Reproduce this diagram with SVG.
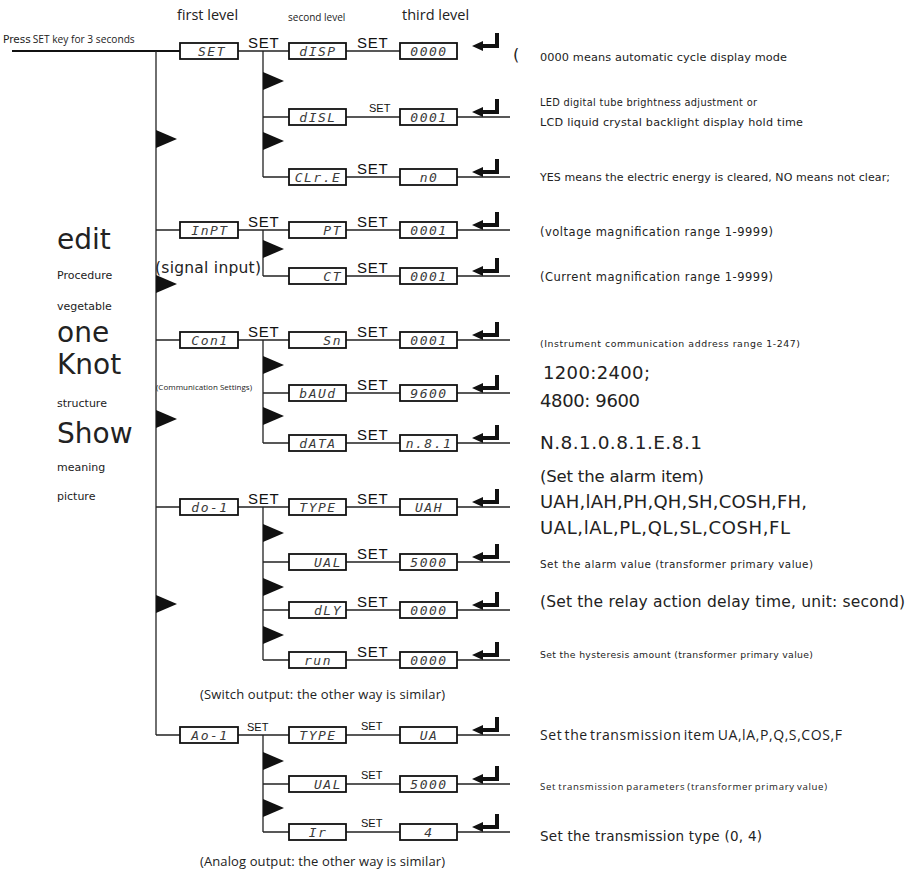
<svg xmlns="http://www.w3.org/2000/svg" xmlns:xlink="http://www.w3.org/1999/xlink" width="908" height="878" viewBox="0 0 908 878">
<style>
.ln{stroke:#222;stroke-width:1.3;fill:none}
.bx{fill:#fff;stroke:#111;stroke-width:1.8}
.seg{font-family:"DejaVu Sans Mono",monospace;font-size:13px;font-style:italic;fill:#3a3a3a;letter-spacing:1.5px}
.c{text-anchor:middle}
.e{text-anchor:end}
.sl{font-family:"Liberation Sans",Arial,sans-serif;font-size:15px;fill:#111;letter-spacing:0.8px}
.ss{font-family:"Liberation Sans",Arial,sans-serif;font-size:11px;fill:#111}
.blk{fill:#111}
.n{font-family:"DejaVu Sans",sans-serif;fill:#222}
.o{font-family:"Open Sans",sans-serif;fill:#222}
</style>
<defs>
<path id="tri" d="M0,-9 L21,0 L0,9 Z"/>
<path id="ent" d="M499,-18 V-3 H483 V0 L472,-5 L483,-10 V-7 H495 V-18 Z"/>
</defs>
<rect width="908" height="878" fill="#fff"/>

<!-- headings -->
<text class="o" x="177" y="20" font-size="14.5">first level</text>
<text class="o" x="288" y="21" font-size="10">second level</text>
<text class="o" x="402" y="20" font-size="14.5">third level</text>
<text x="3" y="43"><tspan class="n" font-size="10.5">Press</tspan><tspan class="o" font-size="10.2" dx="2">SET key for 3 seconds</tspan></text>

<!-- connectors -->
<g id="connectors">
<path d="M12,51 H180" stroke="#111" stroke-width="2.2" fill="none"/>
<path class="ln" d="M156,51 V735"/>
<path class="ln" d="M238,51 H289 M346,51 H400 M263,51 V177
M263,117 H289 M346,117 H400 M457,117 H510
M263,177 H289 M346,177 H400 M457,177 H510
M156,230 H180 M238,230 H289 M346,230 H400 M457,230 H510 M263,230 V276
M263,276 H289 M346,276 H400 M457,276 H510
M156,340 H180 M238,340 H289 M346,340 H400 M457,340 H510 M263,340 V443
M263,393 H289 M346,393 H400 M457,393 H510
M263,443 H289 M346,443 H400 M457,443 H510
M156,507 H180 M238,507 H289 M346,507 H400 M457,507 H510 M263,507 V660
M263,562 H289 M346,562 H400 M457,562 H510
M263,610 H289 M346,610 H400 M457,610 H510
M263,660 H289 M346,660 H400 M457,660 H510
M156,735 H180 M238,735 H289 M346,735 H400 M457,735 H510 M263,735 V832
M263,784 H289 M346,784 H400 M457,784 H510
M263,832 H289 M346,832 H400 M457,832 H510"/>
<g class="blk">
<use xlink:href="#tri" x="156" y="139"/>
<use xlink:href="#tri" x="156" y="284"/>
<use xlink:href="#tri" x="156" y="419"/>
<use xlink:href="#tri" x="156" y="604"/>
<use xlink:href="#tri" x="263" y="81"/>
<use xlink:href="#tri" x="263" y="141"/>
<use xlink:href="#tri" x="263" y="249"/>
<use xlink:href="#tri" x="263" y="365"/>
<use xlink:href="#tri" x="263" y="416"/>
<use xlink:href="#tri" x="263" y="533"/>
<use xlink:href="#tri" x="263" y="587"/>
<use xlink:href="#tri" x="263" y="635"/>
<use xlink:href="#tri" x="263" y="761"/>
<use xlink:href="#tri" x="263" y="808"/>
<use xlink:href="#ent" y="51"/>
<use xlink:href="#ent" y="117"/>
<use xlink:href="#ent" y="177"/>
<use xlink:href="#ent" y="230"/>
<use xlink:href="#ent" y="276"/>
<use xlink:href="#ent" y="340"/>
<use xlink:href="#ent" y="393"/>
<use xlink:href="#ent" y="443"/>
<use xlink:href="#ent" y="507"/>
<use xlink:href="#ent" y="562"/>
<use xlink:href="#ent" y="610"/>
<use xlink:href="#ent" y="660"/>
<use xlink:href="#ent" y="735"/>
<use xlink:href="#ent" y="784"/>
<use xlink:href="#ent" y="832"/>
</g>
<!-- SET labels -->
<text class="sl" x="248" y="48">SET</text>
<text class="sl" x="357" y="48">SET</text>
<text class="ss" x="369" y="112">SET</text>
<text class="sl" x="357" y="174">SET</text>
<text class="sl" x="248" y="227">SET</text>
<text class="sl" x="357" y="227">SET</text>
<text class="sl" x="357" y="273">SET</text>
<text class="sl" x="248" y="337">SET</text>
<text class="sl" x="357" y="337">SET</text>
<text class="sl" x="357" y="390">SET</text>
<text class="sl" x="357" y="440">SET</text>
<text class="sl" x="248" y="504">SET</text>
<text class="sl" x="357" y="504">SET</text>
<text class="sl" x="357" y="559">SET</text>
<text class="sl" x="357" y="607">SET</text>
<text class="sl" x="357" y="657">SET</text>
<text class="ss" x="247" y="731">SET</text>
<text class="ss" x="361" y="730">SET</text>
<text class="ss" x="361" y="779">SET</text>
<text class="ss" x="361" y="827">SET</text>
</g>

<!-- level 1 nodes -->
<g id="n_set"><rect class="bx" x="180" y="43" width="58" height="16"/><text class="seg c" x="212" y="56">SET</text></g>
<g id="n_inpt"><rect class="bx" x="180" y="222" width="58" height="16"/><text class="seg c" x="210" y="235">InPT</text></g>
<g id="n_con1"><rect class="bx" x="180" y="332" width="58" height="16"/><text class="seg c" x="210" y="345">Con1</text></g>
<g id="n_do1"><rect class="bx" x="180" y="499" width="58" height="16"/><text class="seg c" x="210" y="512">do-1</text></g>
<g id="n_ao1"><rect class="bx" x="180" y="727" width="58" height="16"/><text class="seg c" x="210" y="740">Ao-1</text></g>

<!-- level 2 nodes -->
<g id="n_disp"><rect class="bx" x="289" y="43" width="57" height="16"/><text class="seg c" x="318" y="56">dISP</text></g>
<g id="n_disl"><rect class="bx" x="289" y="109" width="57" height="16"/><text class="seg c" x="318" y="122">dISL</text></g>
<g id="n_clre"><rect class="bx" x="289" y="169" width="57" height="16"/><text class="seg c" x="318" y="182" letter-spacing="0.5">CLr.E</text></g>
<g id="n_pt"><rect class="bx" x="289" y="222" width="57" height="16"/><text class="seg e" x="342" y="235">PT</text></g>
<g id="n_ct"><rect class="bx" x="289" y="268" width="57" height="16"/><text class="seg e" x="342" y="281">CT</text></g>
<g id="n_sn"><rect class="bx" x="289" y="332" width="57" height="16"/><text class="seg e" x="342" y="345">Sn</text></g>
<g id="n_baud"><rect class="bx" x="289" y="385" width="57" height="16"/><text class="seg c" x="318" y="398">bAUd</text></g>
<g id="n_data"><rect class="bx" x="289" y="435" width="57" height="16"/><text class="seg c" x="318" y="448">dATA</text></g>
<g id="n_type1"><rect class="bx" x="289" y="499" width="57" height="16"/><text class="seg c" x="318" y="512">TYPE</text></g>
<g id="n_ual1"><rect class="bx" x="289" y="554" width="57" height="16"/><text class="seg e" x="342" y="567">UAL</text></g>
<g id="n_dly"><rect class="bx" x="289" y="602" width="57" height="16"/><text class="seg e" x="342" y="615">dLY</text></g>
<g id="n_run"><rect class="bx" x="289" y="652" width="57" height="16"/><text class="seg c" x="318" y="665">run</text></g>
<g id="n_type2"><rect class="bx" x="289" y="727" width="57" height="16"/><text class="seg c" x="318" y="740">TYPE</text></g>
<g id="n_ual2"><rect class="bx" x="289" y="776" width="57" height="16"/><text class="seg e" x="342" y="789">UAL</text></g>
<g id="n_ir"><rect class="bx" x="289" y="824" width="57" height="16"/><text class="seg c" x="318" y="837">Ir</text></g>

<!-- level 3 nodes -->
<g id="v_disp"><rect class="bx" x="400" y="43" width="57" height="16"/><text class="seg c" x="429" y="56">0000</text></g>
<g id="v_disl"><rect class="bx" x="400" y="109" width="57" height="16"/><text class="seg c" x="429" y="122">0001</text></g>
<g id="v_clre"><rect class="bx" x="400" y="169" width="57" height="16"/><text class="seg c" x="429" y="182">n0</text></g>
<g id="v_pt"><rect class="bx" x="400" y="222" width="57" height="16"/><text class="seg c" x="429" y="235">0001</text></g>
<g id="v_ct"><rect class="bx" x="400" y="268" width="57" height="16"/><text class="seg c" x="429" y="281">0001</text></g>
<g id="v_sn"><rect class="bx" x="400" y="332" width="57" height="16"/><text class="seg c" x="429" y="345">0001</text></g>
<g id="v_baud"><rect class="bx" x="400" y="385" width="57" height="16"/><text class="seg c" x="429" y="398">9600</text></g>
<g id="v_data"><rect class="bx" x="400" y="435" width="57" height="16"/><text class="seg c" x="429" y="448" letter-spacing="0.5">n.8.1</text></g>
<g id="v_type1"><rect class="bx" x="400" y="499" width="57" height="16"/><text class="seg c" x="429" y="512">UAH</text></g>
<g id="v_ual1"><rect class="bx" x="400" y="554" width="57" height="16"/><text class="seg c" x="429" y="567">5000</text></g>
<g id="v_dly"><rect class="bx" x="400" y="602" width="57" height="16"/><text class="seg c" x="429" y="615">0000</text></g>
<g id="v_run"><rect class="bx" x="400" y="652" width="57" height="16"/><text class="seg c" x="429" y="665">0000</text></g>
<g id="v_type2"><rect class="bx" x="400" y="727" width="57" height="16"/><text class="seg c" x="429" y="740">UA</text></g>
<g id="v_ual2"><rect class="bx" x="400" y="776" width="57" height="16"/><text class="seg c" x="429" y="789">5000</text></g>
<g id="v_ir"><rect class="bx" x="400" y="824" width="57" height="16"/><text class="seg c" x="429" y="837">4</text></g>

<!-- group captions -->
<text class="n" x="155" y="273" font-size="15.5" textLength="106">(signal input)</text>
<text class="o" x="156" y="390" font-size="8" textLength="96">(Communication Settings)</text>
<text class="o" x="200" y="699" font-size="13" textLength="245">(Switch output: the other way is similar)</text>
<text class="o" x="200" y="866" font-size="13" textLength="245">(Analog output: the other way is similar)</text>

<!-- left column -->
<g class="n">
<text x="57" y="249" font-size="28">edit</text>
<text x="57" y="279" font-size="11">Procedure</text>
<text x="57" y="310" font-size="11">vegetable</text>
<text x="57" y="342" font-size="28">one</text>
<text x="57" y="374" font-size="28">Knot</text>
<text x="57" y="407" font-size="11">structure</text>
<text x="57" y="443" font-size="28">Show</text>
<text x="57" y="471" font-size="11">meaning</text>
<text x="57" y="500" font-size="11">picture</text>
</g>

<!-- right column -->
<g class="n">
<text x="513" y="60" font-size="16">(</text>
<text x="540" y="61" font-size="11.3" textLength="247">0000 means automatic cycle display mode</text>
<text x="540" y="106" font-size="9.8" textLength="217">LED digital tube brightness adjustment or</text>
<text x="540" y="126" font-size="11.2" textLength="263">LCD liquid crystal backlight display hold time</text>
<text x="540" y="181" font-size="11" textLength="350">YES means the electric energy is cleared, NO means not clear;</text>
<text x="540" y="236" font-size="11.5" textLength="233">(voltage magnification range 1-9999)</text>
<text x="540" y="281" font-size="11.5" textLength="233">(Current magnification range 1-9999)</text>
<text x="540" y="347" font-size="9.4" textLength="260">(Instrument communication address range 1-247)</text>
<text x="543" y="379" font-size="18" textLength="107">1200:2400;</text>
<text x="540" y="407" font-size="18" textLength="100">4800: 9600</text>
<text x="540" y="449" font-size="18.5" textLength="162">N.8.1.0.8.1.E.8.1</text>
<text x="540" y="482" font-size="16.5" textLength="164">(Set the alarm item)</text>
<text x="540" y="508" font-size="18" textLength="267">UAH,lAH,PH,QH,SH,COSH,FH,</text>
<text x="540" y="534" font-size="18" textLength="250">UAL,lAL,PL,QL,SL,COSH,FL</text>
<text x="540" y="568" font-size="10.4" textLength="273">Set the alarm value (transformer primary value)</text>
<text x="540" y="607" font-size="15.5" textLength="365">(Set the relay action delay time, unit: second)</text>
<text x="540" y="658" font-size="9.3" textLength="273">Set the hysteresis amount (transformer primary value)</text>
<text x="540" y="841" font-size="13.5" textLength="222">Set the transmission type (0, 4)</text>
</g>
<g class="o">
<text x="540" y="740" font-size="14" word-spacing="-2" textLength="302">Set the transmission item UA,lA,P,Q,S,COS,F</text>
<text x="540" y="790" font-size="9.6" word-spacing="-1" textLength="287">Set transmission parameters (transformer primary value)</text>
</g>
</svg>
